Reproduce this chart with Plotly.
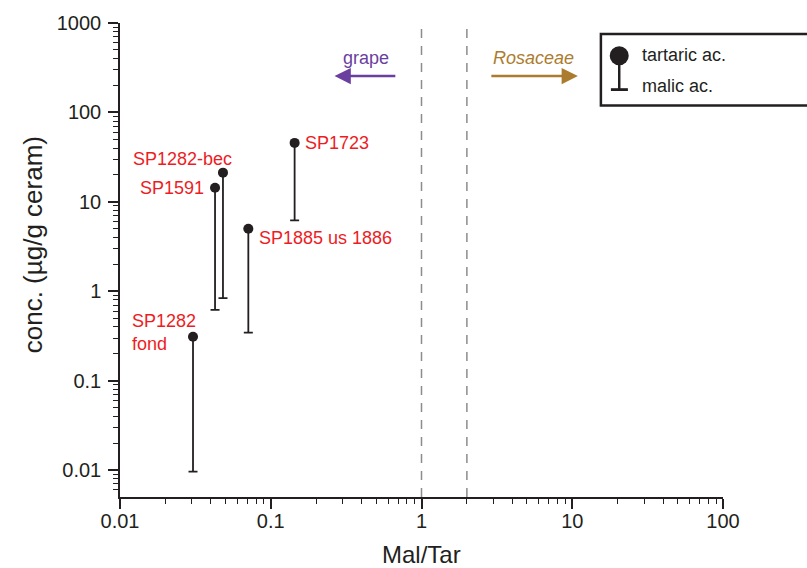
import numpy as np
import plotly.graph_objects as go

# ---- data ----
samples = ["SP1282<br>fond", "SP1591", "SP1282-bec", "SP1885 us 1886", "SP1723"]
mal_tar = [0.0305, 0.0427, 0.0482, 0.071, 0.144]
tartaric = [0.31, 14.4, 21.2, 5.0, 45.6]
malic = [0.0096, 0.62, 0.836, 0.344, 6.2]

# label placement relative to each point (pixels)
label_xanchor = ["left", "right", "center", "left", "left"]
label_xshift = [-63, -9, -40, 9, 8]
label_yshift = [4, 0, 14, -9, 0]

# region boundaries and direction arrows
boundaries = [1, 2]
grape_arrow_x = [0.686, 0.265]      # tail, head
rosaceae_arrow_x = [2.84, 10.9]     # tail, head
arrow_y = 255

x_ticks = [0.01, 0.1, 1, 10, 100]
x_ticktext = ["0.01", "0.1", "1", "10", "100"]
y_ticks = [0.01, 0.1, 1, 10, 100, 1000]
y_ticktext = ["0.01", "0.1", "1", "10", "100", "1000"]

x_range = [0.01, 100]
y_range = [0.005, 1000]

INK = "#231f20"
RED = "#ED1C24"
PURPLE = "#6A3FA0"
GOLD = "#AC7C2E"
FONT = "Liberation Sans, Arial, Helvetica, sans-serif"

x_minor = [m * 10.0 ** e for e in range(-2, 2) for m in range(2, 10)]
y_minor = [m * 10.0 ** e for e in range(-3, 3) for m in range(2, 10) if m * 10.0 ** e > 0.005]

fig = go.Figure()

# dashed region boundaries
for b in boundaries:
    fig.add_trace(go.Scatter(
        x=[b, b], y=y_range, mode="lines",
        line=dict(color="#8c8c8c", width=1.5, dash="9px,8px"),
        hoverinfo="skip", showlegend=False, cliponaxis=False))

# tartaric points with malic whiskers
err_minus = [t - m for t, m in zip(tartaric, malic)]
fig.add_trace(go.Scatter(
    x=mal_tar, y=tartaric, mode="markers",
    marker=dict(size=10, color=INK),
    error_y=dict(type="data", symmetric=False, array=[0] * len(tartaric),
                 arrayminus=err_minus, color=INK, thickness=1.8, width=4.5),
    showlegend=False, cliponaxis=False))

annotations = []
for s, xv, yv, xa, xs, ys in zip(samples, mal_tar, tartaric, label_xanchor, label_xshift, label_yshift):
    annotations.append(dict(
        x=np.log10(xv), y=np.log10(yv), xref="x", yref="y", text=s, showarrow=False,
        xanchor=xa, yanchor="middle", xshift=xs, yshift=ys, align="left",
        font=dict(family=FONT, size=18, color=RED)))

# direction arrows
for ax_x, color, label, italic in [(grape_arrow_x, PURPLE, "grape", False),
                                   (rosaceae_arrow_x, GOLD, "Rosaceae", True)]:
    annotations.append(dict(
        x=np.log10(ax_x[1]), y=np.log10(arrow_y), ax=np.log10(ax_x[0]), ay=np.log10(arrow_y),
        xref="x", yref="y", axref="x", ayref="y", text="", showarrow=True,
        arrowhead=2, arrowsize=1.3, arrowwidth=2.5, arrowcolor=color))
    annotations.append(dict(
        x=(np.log10(ax_x[0]) + np.log10(ax_x[1])) / 2, y=np.log10(arrow_y),
        xref="x", yref="y", text=f"<i>{label}</i>" if italic else label, showarrow=False,
        yshift=18, font=dict(family=FONT, size=18, color=color)))

# axis titles
annotations.append(dict(x=-0.1452, y=0.532, xref="paper", yref="paper", text="conc. (µg/g ceram)",
                        textangle=-90, showarrow=False, xanchor="center", yanchor="middle",
                        font=dict(family=FONT, size=26, color=INK)))
annotations.append(dict(x=0.5, y=-0.1216, xref="paper", yref="paper", text="Mal/Tar",
                        showarrow=False, xanchor="center", yanchor="middle",
                        font=dict(family=FONT, size=24, color=INK)))

# legend key
annotations.append(dict(x=0.8622, y=0.933, xref="paper", yref="paper", text="tartaric ac.",
                        showarrow=False, xanchor="left", yanchor="middle",
                        font=dict(family=FONT, size=18, color=INK)))
annotations.append(dict(x=0.8622, y=0.868, xref="paper", yref="paper", text="malic ac.",
                        showarrow=False, xanchor="left", yanchor="middle",
                        font=dict(family=FONT, size=18, color=INK)))

shapes = [
    dict(type="rect", xref="paper", yref="paper", x0=0.7975, x1=1.16, y0=0.826, y1=0.977,
         line=dict(color=INK, width=2.5), fillcolor="white", layer="above"),
    dict(type="line", xref="paper", yref="paper", x0=0.8279, x1=0.8279, y0=0.912, y1=0.8595,
         line=dict(color=INK, width=2.5)),
    dict(type="line", xref="paper", yref="paper", x0=0.8141, x1=0.8423, y0=0.8595, y1=0.8595,
         line=dict(color=INK, width=2.8)),
    dict(type="circle", xref="paper", yref="paper", xsizemode="pixel", ysizemode="pixel",
         xanchor=0.8279, yanchor=0.9308, x0=-9.5, x1=9.5, y0=-9.5, y1=9.5,
         line=dict(color=INK, width=0), fillcolor=INK),
]

axis_common = dict(
    type="log", showgrid=False, zeroline=False, showline=True, linecolor=INK, linewidth=1.5,
    ticks="outside", ticklen=10, tickwidth=1.5, tickcolor=INK,
    tickfont=dict(family=FONT, size=20, color=INK),
)

fig.update_layout(
    width=807, height=568,
    margin=dict(l=120, r=84, t=20, b=71),
    paper_bgcolor="white", plot_bgcolor="white",
    xaxis=dict(range=[np.log10(x_range[0]), np.log10(x_range[1])], tickmode="array",
               tickvals=x_ticks, ticktext=x_ticktext, ticklabelstandoff=-5,
               minor=dict(tickmode="array", tickvals=x_minor, ticks="outside", ticklen=5,
                          tickwidth=1.2, tickcolor=INK),
               **axis_common),
    yaxis=dict(range=[np.log10(y_range[0]), np.log10(y_range[1])], tickmode="array",
               tickvals=y_ticks, ticktext=y_ticktext, ticklabelstandoff=3,
               minor=dict(tickmode="array", tickvals=y_minor, ticks="outside", ticklen=5,
                          tickwidth=1.2, tickcolor=INK),
               **axis_common),
    annotations=annotations,
    shapes=shapes,
    showlegend=False,
)

# remove the browser's default 8px body margin so the figure fills the window exactly
fig.write_html("out.html", config={"displayModeBar": False},
               post_script="document.body.style.margin='0px';document.body.style.overflow='hidden';")
